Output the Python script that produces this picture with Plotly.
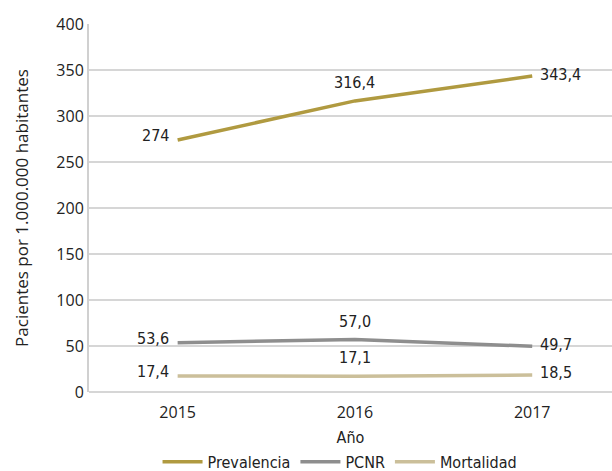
import plotly.graph_objects as go

years = ["2015", "2016", "2017"]
prevalencia = [274, 316.4, 343.4]
pcnr = [53.6, 57.0, 49.7]
mortalidad = [17.4, 17.1, 18.5]
prev_labels = ["274", "316,4", "343,4"]
pcnr_labels = ["53,6", "57,0", "49,7"]
mort_labels = ["17,4", "17,1", "18,5"]

FONT = "DejaVu Sans Condensed, sans-serif"
TFONT = "Open Sans, sans-serif"

series = [
    ("Prevalencia", prevalencia, prev_labels, "#B09A40"),
    ("PCNR", pcnr, pcnr_labels, "#8E8E8E"),
    ("Mortalidad", mortalidad, mort_labels, "#CBBF9A"),
]

fig = go.Figure()
annotations = []
for name, vals, labels, color in series:
    fig.add_trace(go.Scatter(
        x=years, y=vals, name=name, mode="lines",
        line=dict(color=color, width=3.5), cliponaxis=False,
    ))
    for i, (yv, lab) in enumerate(zip(vals, labels)):
        if i == 0:
            a = dict(xanchor="right", yanchor="middle", xshift=-7, yshift=4)
        elif i == 1:
            a = dict(xanchor="center", yanchor="bottom", xshift=0, yshift=7)
        else:
            a = dict(xanchor="left", yanchor="middle", xshift=6, yshift=2)
        annotations.append(dict(x=i, y=yv, xref="x", yref="y", text=lab, showarrow=False,
                                font=dict(family=FONT, size=16, color="#222"), **a))

fig.update_layout(
    width=612, height=471,
    margin=dict(l=89, r=0, t=24, b=79, autoexpand=False),
    plot_bgcolor="white", paper_bgcolor="white",
    font=dict(family=FONT, size=16, color="#222"),
    annotations=annotations,
    showlegend=True,
    legend=dict(orientation="h", x=0.48, xanchor="center", y=-0.19, yanchor="middle",
                font=dict(family=FONT, size=16, color="#222"), itemwidth=40,
                tracegroupgap=0),
    xaxis=dict(type="category", range=[-0.5, 2.45], showgrid=False, zeroline=False,
               showline=False, ticks="outside", ticklen=6, tickcolor="rgba(0,0,0,0)",
               tickfont=dict(family=TFONT, size=16),
               title=dict(text="Año", font=dict(family=FONT, size=16), standoff=9)),
    yaxis=dict(range=[0, 400], dtick=50, showgrid=True, gridcolor="#D6D6D6", gridwidth=1.5,
               zeroline=True, zerolinecolor="#D6D6D6", zerolinewidth=1.5,
               showline=True, linecolor="#D0D0D0", linewidth=2, ticks="",
               tickfont=dict(family=TFONT, size=16),
               title=dict(text="Pacientes por 1.000.000 habitantes",
                          font=dict(family=TFONT, size=17), standoff=23)),
)

fig.write_html("out.html")
